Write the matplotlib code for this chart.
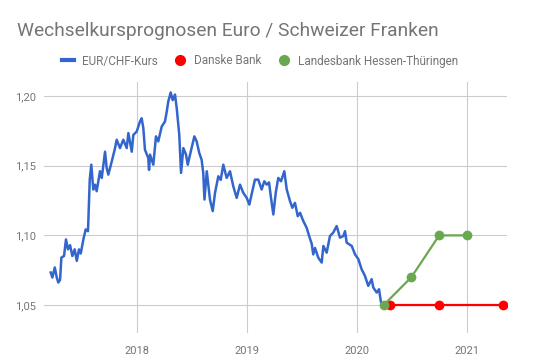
import matplotlib
matplotlib.use("Agg")
import matplotlib.pyplot as plt
from matplotlib.lines import Line2D

plt.rcParams['font.family'] = ['Roboto', 'DejaVu Sans']

# EUR/CHF-Kurs (Dezimaljahr, Kurs)
kurs_jahr = [2017.218, 2017.233, 2017.255, 2017.273, 2017.287, 2017.303, 2017.315, 2017.339,
             2017.357, 2017.375, 2017.394, 2017.415, 2017.436, 2017.455, 2017.475, 2017.491,
             2017.515, 2017.536, 2017.557, 2017.573, 2017.587, 2017.605, 2017.621, 2017.636,
             2017.666, 2017.682, 2017.712, 2017.727, 2017.742, 2017.773, 2017.803, 2017.818,
             2017.848, 2017.878, 2017.909, 2017.924, 2017.955, 2017.969, 2018.000, 2018.030,
             2018.045, 2018.060, 2018.075, 2018.105, 2018.112, 2018.121, 2018.151, 2018.175,
             2018.196, 2018.227, 2018.257, 2018.273, 2018.287, 2018.309, 2018.327, 2018.348,
             2018.364, 2018.387, 2018.403, 2018.424, 2018.448, 2018.464, 2018.491, 2018.524,
             2018.545, 2018.569, 2018.590, 2018.605, 2018.616, 2018.637, 2018.666, 2018.691,
             2018.712, 2018.742, 2018.764, 2018.787, 2018.818, 2018.848, 2018.878, 2018.909,
             2018.939, 2018.969, 2019.000, 2019.024, 2019.055, 2019.075, 2019.105, 2019.136,
             2019.160, 2019.182, 2019.203, 2019.221, 2019.242, 2019.264, 2019.287, 2019.312,
             2019.342, 2019.364, 2019.394, 2019.415, 2019.439, 2019.464, 2019.485, 2019.515,
             2019.545, 2019.566, 2019.591, 2019.605, 2019.621, 2019.651, 2019.682, 2019.697,
             2019.727, 2019.757, 2019.787, 2019.818, 2019.848, 2019.878, 2019.894, 2019.909,
             2019.955, 2019.985, 2020.015, 2020.045, 2020.075, 2020.105, 2020.136, 2020.151,
             2020.182, 2020.203, 2020.221, 2020.240]
kurs = [1.0734, 1.0698, 1.0770, 1.0698, 1.0662, 1.0680, 1.0841, 1.0852,
        1.0971, 1.0900, 1.0930, 1.0852, 1.0900, 1.0817, 1.0900, 1.0870,
        1.0971, 1.1043, 1.1030, 1.1400, 1.1507, 1.1329, 1.1364, 1.1317,
        1.1460, 1.1412, 1.1600, 1.1483, 1.1436, 1.1530, 1.1626, 1.1686,
        1.1626, 1.1686, 1.1626, 1.1734, 1.1600, 1.1720, 1.1745, 1.1817,
        1.1840, 1.1770, 1.1614, 1.1555, 1.1470, 1.1579, 1.1507, 1.1710,
        1.1674, 1.1780, 1.1817, 1.1888, 1.1960, 1.2025, 1.1970, 1.2010,
        1.1910, 1.1720, 1.1448, 1.1626, 1.1580, 1.1507, 1.1600, 1.1710,
        1.1674, 1.1590, 1.1543, 1.1448, 1.1257, 1.1460, 1.1257, 1.1174,
        1.1305, 1.1424, 1.1398, 1.1507, 1.1412, 1.1460, 1.1352, 1.1269,
        1.1364, 1.1305, 1.1269, 1.1221, 1.1329, 1.1400, 1.1400, 1.1329,
        1.1388, 1.1364, 1.1380, 1.1269, 1.1150, 1.1305, 1.1412, 1.1388,
        1.1460, 1.1329, 1.1245, 1.1198, 1.1233, 1.1138, 1.1162, 1.1102,
        1.1055, 1.1000, 1.0940, 1.0864, 1.0910, 1.0840, 1.0805, 1.0924,
        1.0876, 1.0995, 1.1020, 1.1067, 1.0984, 1.0995, 1.1030, 1.0948,
        1.0924, 1.0864, 1.0830, 1.0757, 1.0710, 1.0638, 1.0686, 1.0626,
        1.0590, 1.0614, 1.0520, 1.0500]

# Prognosen
danske_jahr = [2020.306, 2020.75, 2021.33]
danske = [1.05, 1.05, 1.05]
helaba_jahr = [2020.245, 2020.497, 2020.75, 2021.0]
helaba = [1.05, 1.07, 1.10, 1.10]

jahre = [2018, 2019, 2020, 2021]
y_ticks = [1.05, 1.10, 1.15, 1.20]

blau = '#3366cc'
rot = '#ff0000'
gruen = '#6aa84f'
grau = '#757575'

fig = plt.figure(figsize=(5.43, 3.61), dpi=100)
ax = fig.add_axes([44/543, 1-333/361, (506.7-44)/543, (333-82)/361])

ax.plot(kurs_jahr, kurs, color=blau, lw=1.8, zorder=3)
ax.plot(danske_jahr, danske, color=rot, lw=1.6, marker='o', ms=6, zorder=4)
ax.plot(helaba_jahr, helaba, color=gruen, lw=1.6, marker='o', ms=6, zorder=5)

ax.set_xlim(2017.157, 2021.364)
ax.set_ylim(1.03, 1.21)
ax.set_xticks(jahre)
ax.set_xticklabels([str(j) for j in jahre])
ax.set_yticks(y_ticks)
ax.set_yticklabels([('%.2f' % v).replace('.', ',') for v in y_ticks])
ax.grid(True, color='#cccccc', lw=0.8)
ax.set_axisbelow(True)
for s in ax.spines.values():
    s.set_visible(False)
ax.tick_params(length=0, labelsize=8, labelcolor=grau)
ax.tick_params(axis='y', pad=6)
ax.tick_params(axis='x', pad=9)

fig.text(17/543, 1-36/361, 'Wechselkursprognosen Euro / Schweizer Franken',
         fontsize=13.8, color=grau, ha='left', va='baseline')

handles = [Line2D([], [], color=blau, lw=3),
           Line2D([], [], color=rot, lw=0, marker='o', ms=7),
           Line2D([], [], color=gruen, lw=0, marker='o', ms=7)]
labels = ['EUR/CHF-Kurs', 'Danske Bank', 'Landesbank Hessen-Thüringen']
leg = fig.legend(handles, labels, loc='center', bbox_to_anchor=(260/543, 1-61/361),
                 ncol=3, frameon=False, fontsize=8.5, handlelength=1.0,
                 handletextpad=0.7, columnspacing=1.4)
for t in leg.get_texts():
    t.set_color(grau)

fig.savefig('out.png', dpi=100)
